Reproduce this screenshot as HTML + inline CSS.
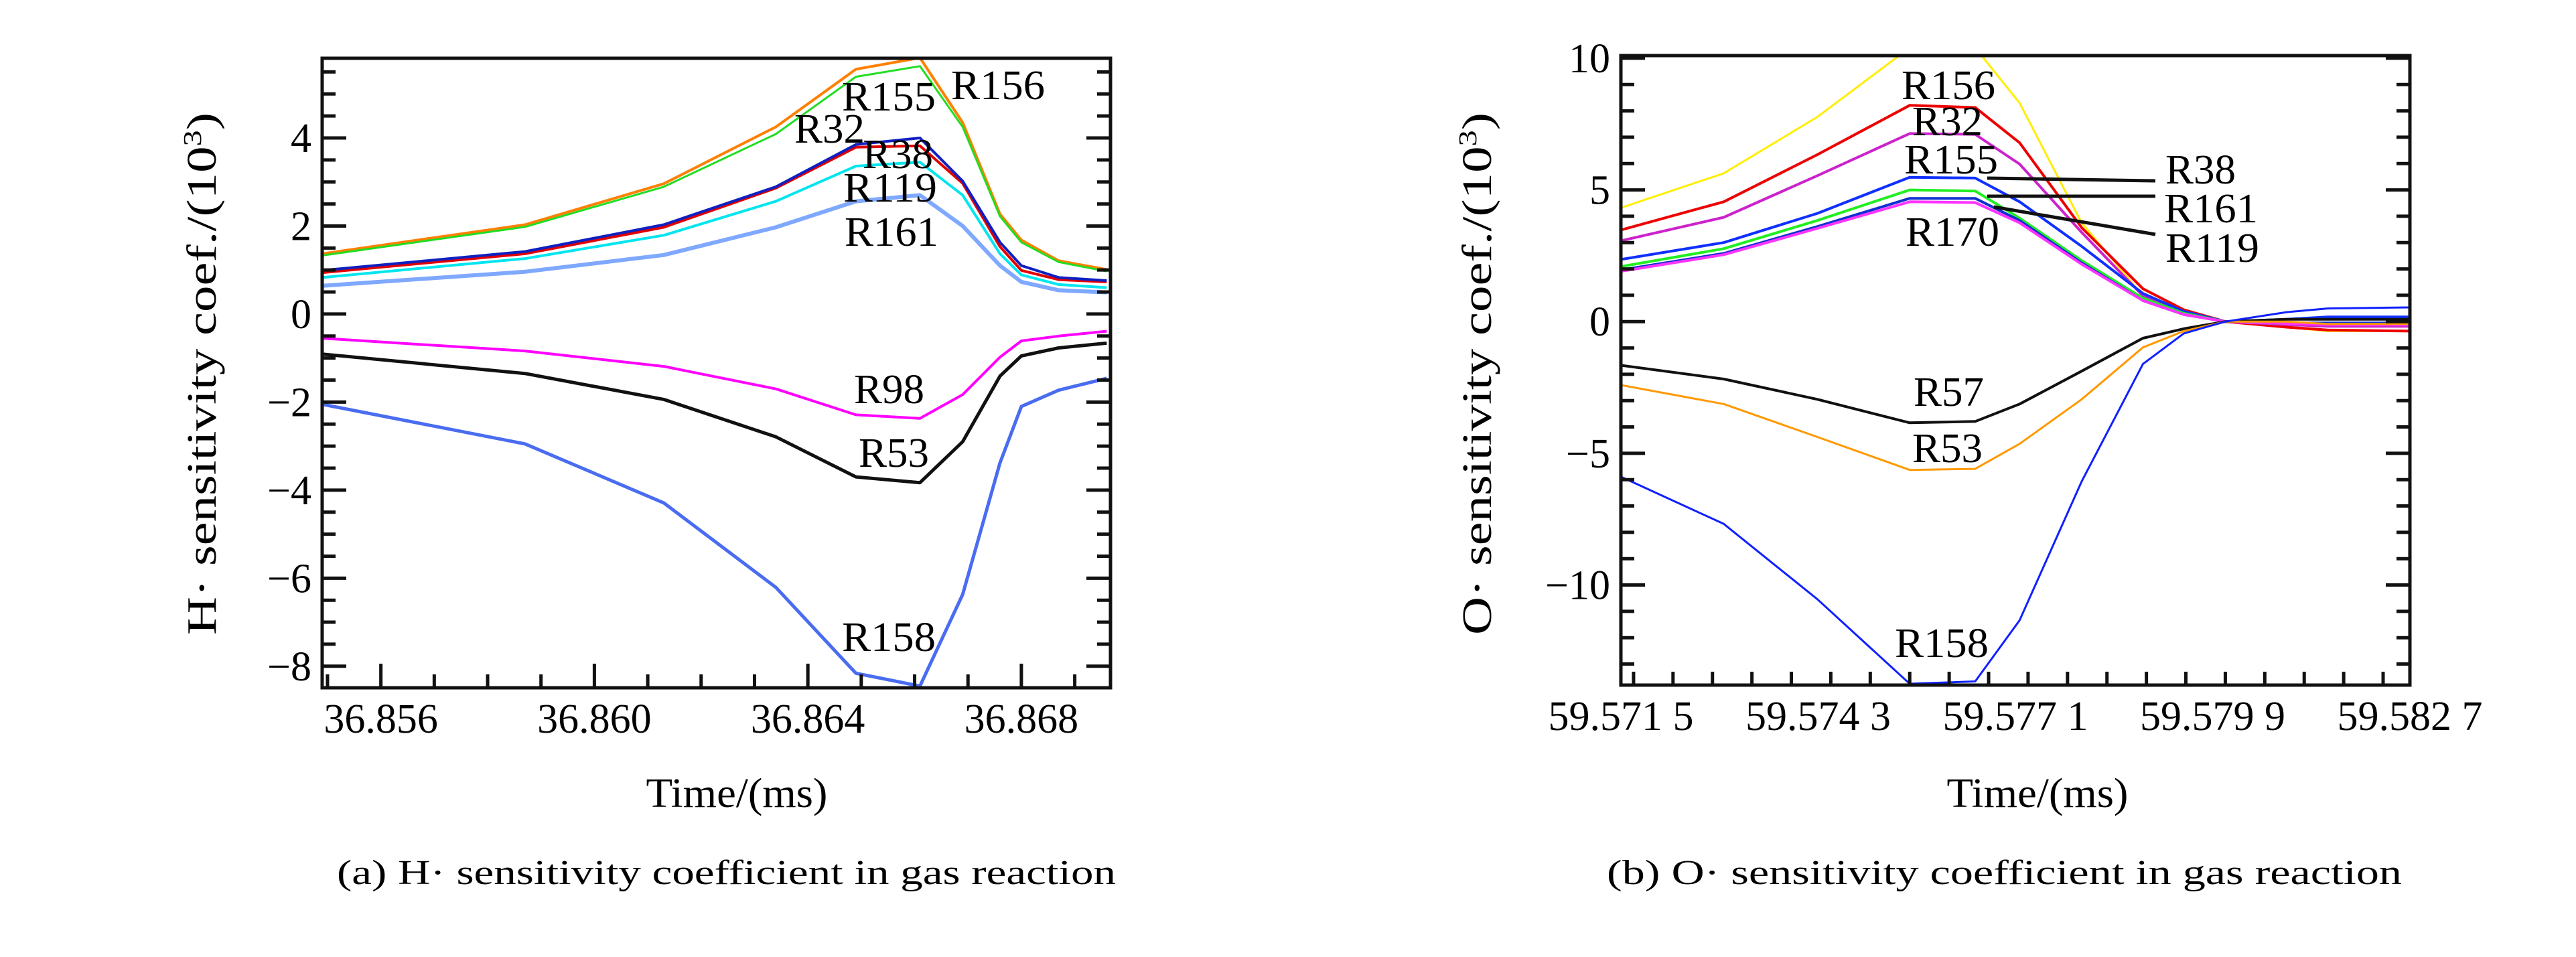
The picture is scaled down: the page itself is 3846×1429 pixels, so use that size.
<!DOCTYPE html>
<html><head><meta charset="utf-8"><style>
html,body{margin:0;padding:0;background:#fff;}
svg{display:block;font-family:"Liberation Serif",serif;}
</style></head><body>
<svg id="chart" width="3846" height="1429" viewBox="0 0 3846 1429" xmlns="http://www.w3.org/2000/svg">
<defs>
<clipPath id="clipA"><rect x="481" y="87" width="1177" height="940"/></clipPath>
<clipPath id="clipB"><rect x="2420" y="83" width="1178" height="940"/></clipPath>
</defs>
<g id="panelA"></g>
<g id="panelB"></g>
<text x="1100" y="1205" text-anchor="middle" font-size="62" textLength="271" lengthAdjust="spacingAndGlyphs">Time/(ms)</text>
<text x="3042" y="1205" text-anchor="middle" font-size="62" textLength="271" lengthAdjust="spacingAndGlyphs">Time/(ms)</text>
<text x="503" y="1320" font-size="52" textLength="1163" lengthAdjust="spacingAndGlyphs">(a) H· sensitivity coefficient in gas reaction</text>
<text x="2399" y="1320" font-size="52" textLength="1187" lengthAdjust="spacingAndGlyphs">(b) O· sensitivity coefficient in gas reaction</text>
<text transform="translate(322,558) rotate(-90)" text-anchor="middle" font-size="62" textLength="780" lengthAdjust="spacingAndGlyphs">H· sensitivity coef./(10<tspan dy="-22" font-size="38">3</tspan><tspan dy="22">)</tspan></text>
<text transform="translate(2226,558) rotate(-90)" text-anchor="middle" font-size="62" textLength="780" lengthAdjust="spacingAndGlyphs">O· sensitivity coef./(10<tspan dy="-22" font-size="38">3</tspan><tspan dy="22">)</tspan></text>
</svg>
<script>
// ---------- Panel A data ----------
const timesA = [36.8549,36.8587,36.8613,36.8634,36.8649,36.8661,36.8669,36.8676,36.8680,36.8687,36.8696];
const aR156 = [1.37,2.03,2.96,4.25,5.56,5.82,4.35,2.27,1.68,1.21,1.01];
const aR155 = [1.33,1.98,2.89,4.09,5.39,5.63,4.25,2.22,1.63,1.18,0.97];
const aR38  = [0.99,1.42,2.03,2.89,3.85,4.00,3.02,1.63,1.10,0.83,0.76];
const aR32  = [0.94,1.37,1.97,2.86,3.79,3.82,2.97,1.53,0.99,0.78,0.73];
const aR119 = [0.83,1.26,1.79,2.56,3.36,3.45,2.70,1.37,0.89,0.67,0.60];
const aR161 = [0.64,0.96,1.34,1.97,2.56,2.70,2.00,1.10,0.73,0.54,0.49];
const aR98  = [-0.55,-0.84,-1.19,-1.70,-2.29,-2.37,-1.83,-0.98,-0.61,-0.50,-0.39];
const aR53  = [-0.91,-1.35,-1.94,-2.79,-3.70,-3.83,-2.90,-1.41,-0.95,-0.77,-0.66];
const aR158 = [-2.05,-2.95,-4.29,-6.21,-8.16,-8.45,-6.37,-3.38,-2.10,-1.73,-1.46];
const xTicksA = [36.856,36.860,36.864,36.868];
const xTickLabelsA = ["36.856","36.860","36.864","36.868"];
const yTicksA = [-8,-6,-4,-2,0,2,4];
const yTickLabelsA = ["\u22128","\u22126","\u22124","\u22122","0","2","4"];
// ---------- Panel B data ----------
const timesB = [59.5715,59.57296,59.57429,59.57560,59.57653,59.57716,59.57804,59.57891,59.57949,59.58008,59.58095,59.58153,59.5827];
const bR156 = [4.32,5.63,7.77,10.4,10.4,8.30,3.75,0.98,0.27,0,-0.21,-0.36,-0.36];
const bR32  = [3.48,4.55,6.34,8.21,8.13,6.79,3.57,1.25,0.45,0,-0.21,-0.32,-0.36];
const bMag  = [3.07,3.96,5.54,7.14,7.11,5.98,3.39,0.98,0.36,0,-0.11,-0.18,-0.18];
const bR38  = [2.36,3.00,4.11,5.48,5.45,4.55,2.86,1.07,0.39,0,0.09,0.18,0.18];
const bR161 = [2.09,2.77,3.84,5.00,4.96,3.93,2.32,0.89,0.32,0,-0.07,-0.09,-0.09];
const bR119 = [1.96,2.59,3.61,4.68,4.68,3.84,2.23,0.80,0.27,0,-0.05,-0.05,-0.05];
const bR170 = [1.91,2.54,3.54,4.55,4.52,3.75,2.18,0.80,0.27,0,-0.07,-0.11,-0.11];
const bR57  = [-1.66,-2.18,-2.95,-3.84,-3.79,-3.13,-1.88,-0.63,-0.27,0,0.09,0.09,0.09];
const bR53  = [-2.41,-3.13,-4.38,-5.63,-5.59,-4.64,-2.95,-0.98,-0.36,0,0,-0.09,-0.09];
const bR158 = [-5.89,-7.68,-10.54,-13.75,-13.66,-11.34,-6.07,-1.61,-0.45,0,0.36,0.50,0.54];
const xTicksB = [59.5715,59.5743,59.5771,59.5799,59.5827];
const xTickLabelsB = ["59.571 5","59.574 3","59.577 1","59.579 9","59.582 7"];
const yTicksB = [-10,-5,0,5,10];
const yTickLabelsB = ["\u221210","\u22125","0","5","10"];

const NS = "http://www.w3.org/2000/svg";
function mk(parent, tag, attrs){const e=document.createElementNS(NS,tag);for(const k in attrs)e.setAttribute(k,attrs[k]);parent.appendChild(e);return e;}

function panel(g, box, xd, yd, clip){
  const sx = v => box.x + (v - xd[0])/(xd[1]-xd[0])*box.w;
  const sy = v => box.y + (yd[1] - v)/(yd[1]-yd[0])*box.h;
  return {sx, sy, box, g, clip};
}
function drawAxes(P, xt, xl, xMinorStep, yt, yl, yMinorStep, xd, yd){
  const g=P.g, b=P.box;
  const frame = mk(g,"rect",{x:b.x,y:b.y,width:b.w,height:b.h,fill:"none",stroke:"#111","stroke-width":5});
  
  
  // minor x ticks
  let start = Math.ceil((xd[0]-1e-9)/xMinorStep);
  for(let i=start; i*xMinorStep<=xd[1]+1e-9; i++){
    const v=i*xMinorStep, x=P.sx(v);
    const major = xt.some(t=>Math.abs(t-v)<xMinorStep/10);
    const len = major?36:20;
    const t = mk(g,"line",{x1:x,y1:b.y+b.h,x2:x,y2:b.y+b.h-len,stroke:"#111","stroke-width":5});
    
    
  }
  start = Math.ceil((yd[0]-1e-9)/yMinorStep);
  for(let i=start; i*yMinorStep<=yd[1]+1e-9; i++){
    const v=i*yMinorStep, y=P.sy(v);
    const major = yt.some(t=>Math.abs(t-v)<yMinorStep/10);
    const len = major?36:20;
    const t1 = mk(g,"line",{x1:b.x,y1:y,x2:b.x+len,y2:y,stroke:"#111","stroke-width":5});
    
    
    const t2 = mk(g,"line",{x1:b.x+b.w,y1:y,x2:b.x+b.w-len,y2:y,stroke:"#111","stroke-width":5});
    
    
  }
  xt.forEach((v,i)=>{
    const t=mk(g,"text",{x:P.sx(v),y:b.y+b.h+67,"text-anchor":"middle","font-size":62});
    t.textContent=xl[i];
    
    
  });
  yt.forEach((v,i)=>{
    const t=mk(g,"text",{x:b.x-16,y:P.sy(v)+21,"text-anchor":"end","font-size":62});
    t.textContent=yl[i];
    
    
  });
}
function series(P, xs, ys, color, name, w){
  const d = xs.map((x,i)=>(i?"L":"M")+P.sx(x).toFixed(1)+","+P.sy(ys[i]).toFixed(1)).join(" ");
  const p = mk(P.g,"path",{d:d,fill:"none",stroke:color,"stroke-width":w||4,"clip-path":"url(#"+P.clip+")","stroke-linejoin":"round"});
  
  
}
function label(P, x, y, txt){
  const t=mk(P.g,"text",{x:x,y:y,"font-size":62,textLength:txt.length*35,lengthAdjust:"spacingAndGlyphs"});
  t.textContent=txt;
  
  
}

// Panel A
const gA=document.getElementById('panelA');
const PA = panel(gA,{x:481,y:87,w:1177,h:940},[36.8549,36.86967],[-8.49,5.81],"clipA");
series(PA,timesA,aR156,"#ff8000","line-r156",4);
series(PA,timesA,aR155,"#22dd22","line-r155",3);
series(PA,timesA,aR161,"#7fa8ff","line-r161",6);
series(PA,timesA,aR119,"#00e5ee","line-r119",4);
series(PA,timesA,aR32,"#e00000","line-r32",4);
series(PA,timesA,aR38,"#1020c0","line-r38",4);
series(PA,timesA,aR98,"#ff00ff","line-r98",4);
series(PA,timesA,aR53,"#111111","line-r53",5);
series(PA,timesA,aR158,"#4a6cf0","line-r158",5);
drawAxes(PA,xTicksA,xTickLabelsA,0.001,yTicksA,yTickLabelsA,0.5,[36.8549,36.86967],[-8.49,5.81]);
label(PA,1420,148,"R156");label(PA,1257,165,"R155");label(PA,1186,213,"R32");
label(PA,1288,251,"R38");label(PA,1259,301,"R119");label(PA,1261,367,"R161");
label(PA,1275,602,"R98");label(PA,1282,697,"R53");label(PA,1257,972,"R158");

// Panel B
const gB=document.getElementById('panelB');
const PB = panel(gB,{x:2420,y:83,w:1178,h:940},[59.5715,59.5827],[-13.8,10.1],"clipB");
series(PB,timesB,bR156,"#ffee00","line-r156",3);
series(PB,timesB,bR32,"#ee0000","line-r32",4);
series(PB,timesB,bMag,"#cc22cc","line-magenta",4);
series(PB,timesB,bR38,"#1030ff","line-r38",4);
series(PB,timesB,bR161,"#22ee22","line-r161",4);
series(PB,timesB,bR119,"#1030d0","line-r119",4);
series(PB,timesB,bR170,"#ff33ff","line-r170",4);
series(PB,timesB,bR57,"#111111","line-r57",4);
series(PB,timesB,bR53,"#ff9900","line-r53",3);
series(PB,timesB,bR158,"#1020ff","line-r158",3);
drawAxes(PB,xTicksB,xTickLabelsB,0.00056,yTicksB,yTickLabelsB,1,[59.5715,59.5827],[-13.8,10.1]);
[[2967,266,3218,270],[2967,293,3218,293],[2977,309,3218,350]].forEach((c,i)=>{
  const l=mk(gB,"line",{x1:c[0],y1:c[1],x2:c[2],y2:c[3],stroke:"#111","stroke-width":5});
  
  
});
label(PB,2839,148,"R156");label(PB,2855,202,"R32");label(PB,2843,259,"R155");
label(PB,3233,274,"R38");label(PB,3231,332,"R161");label(PB,3233,391,"R119");
label(PB,2845,367,"R170");label(PB,2857,606,"R57");label(PB,2855,690,"R53");label(PB,2829,981,"R158");
</script>
</body></html>
